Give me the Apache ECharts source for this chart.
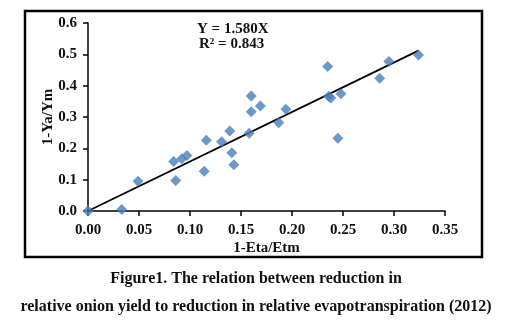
<!DOCTYPE html>
<html>
<head>
<meta charset="utf-8">
<script src="https://cdn.jsdelivr.net/npm/echarts@6/dist/echarts.min.js"></script>
<style>
html,body{margin:0;padding:0;background:#fff;}
#chart{width:509px;height:327px;}
</style>
</head>
<body>
<div id="chart"></div>
<script>
// Data
const etaReduction = [0, 0.033, 0.049, 0.084, 0.086, 0.092, 0.097, 0.114, 0.116, 0.131, 0.139, 0.141, 0.143, 0.158, 0.160, 0.160, 0.169, 0.187, 0.194, 0.235, 0.236, 0.238, 0.248, 0.245, 0.286, 0.295, 0.324];
const yieldReduction = [0, 0.005, 0.095, 0.158, 0.097, 0.167, 0.177, 0.127, 0.226, 0.221, 0.255, 0.186, 0.148, 0.248, 0.317, 0.367, 0.335, 0.282, 0.325, 0.461, 0.366, 0.361, 0.374, 0.232, 0.424, 0.477, 0.498];
const slope = 1.580;
const r2 = 0.843;
const xTicks = ['0.00','0.05','0.10','0.15','0.20','0.25','0.30','0.35'];
const yTicks = ['0.0','0.1','0.2','0.3','0.4','0.5','0.6'];
const xTitle = '1-Eta/Etm';
const yTitle = '1-Ya/Ym';
const caption1 = 'Figure1. The relation between reduction in';
const caption2 = 'relative onion yield to reduction in relative evapotranspiration (2012)';

const points = etaReduction.map((x, i) => [x, yieldReduction[i]]);
const xMaxData = Math.max(...etaReduction);
const fitLine = [[0, 0], [xMaxData, slope * xMaxData]];

const FONT = '"Liberation Serif", "Times New Roman", serif';
const chart = echarts.init(document.getElementById('chart'));
chart.setOption({
  animation: false,
  backgroundColor: '#fff',
  grid: { left: 88, right: 64, top: 23, bottom: 116 },
  xAxis: {
    type: 'value', min: 0, max: 0.35, interval: 0.05,
    axisLine: { lineStyle: { color: '#000', width: 1.5 } },
    axisTick: { show: true, length: 5, lineStyle: { color: '#000', width: 1.5 } },
    splitLine: { show: false },
    axisLabel: { color: '#111', fontFamily: FONT, fontWeight: 'bold', fontSize: 15, margin: 12,
      formatter: v => xTicks[Math.round(v / 0.05)] },
    name: xTitle, nameLocation: 'middle', nameGap: 30, nameMoveOverlap: false,
    nameTextStyle: { color: '#111', fontFamily: FONT, fontWeight: 'bold', fontSize: 15 }
  },
  yAxis: {
    type: 'value', min: 0, max: 0.6, interval: 0.1,
    axisLine: { show: true, lineStyle: { color: '#000', width: 1.5 } },
    axisTick: { show: true, length: 5, lineStyle: { color: '#000', width: 1.5 } },
    splitLine: { show: false },
    axisLabel: { color: '#111', fontFamily: FONT, fontWeight: 'bold', fontSize: 15, margin: 11,
      formatter: v => yTicks[Math.round(v / 0.1)] },
    name: yTitle, nameLocation: 'middle', nameGap: 32, nameRotate: 90, nameMoveOverlap: false,
    nameTextStyle: { color: '#111', fontFamily: FONT, fontWeight: 'bold', fontSize: 15 }
  },
  series: [
    {
      type: 'scatter', data: points, symbol: 'diamond', symbolSize: 11,
      itemStyle: { color: '#4A7EBB' }, z: 3
    },
    {
      type: 'line', data: fitLine, symbol: 'none',
      lineStyle: { color: '#000', width: 1.8 }, z: 2
    }
  ],
  graphic: [
    { type: 'rect', shape: { x: 25, y: 11, width: 457, height: 246 },
      style: { fill: 'none', stroke: '#000', lineWidth: 2.5 }, z: -1 },
    { type: 'text', left: 197, top: 22,
      style: { text: 'Y = ' + slope.toFixed(3) + 'X', fill: '#111', font: 'bold 15px ' + FONT } },
    { type: 'text', left: 199, top: 37,
      style: { text: 'R² = ' + r2.toFixed(3), fill: '#111', font: 'bold 15px ' + FONT } },
    { type: 'text', x: 256, y: 279,
      style: { text: caption1, fill: '#111', font: 'bold 16px ' + FONT, textAlign: 'center', textVerticalAlign: 'middle' } },
    { type: 'text', x: 256, y: 307,
      style: { text: caption2, fill: '#111', font: 'bold 16px ' + FONT, textAlign: 'center', textVerticalAlign: 'middle' } }
  ]
});
</script>
</body>
</html>
